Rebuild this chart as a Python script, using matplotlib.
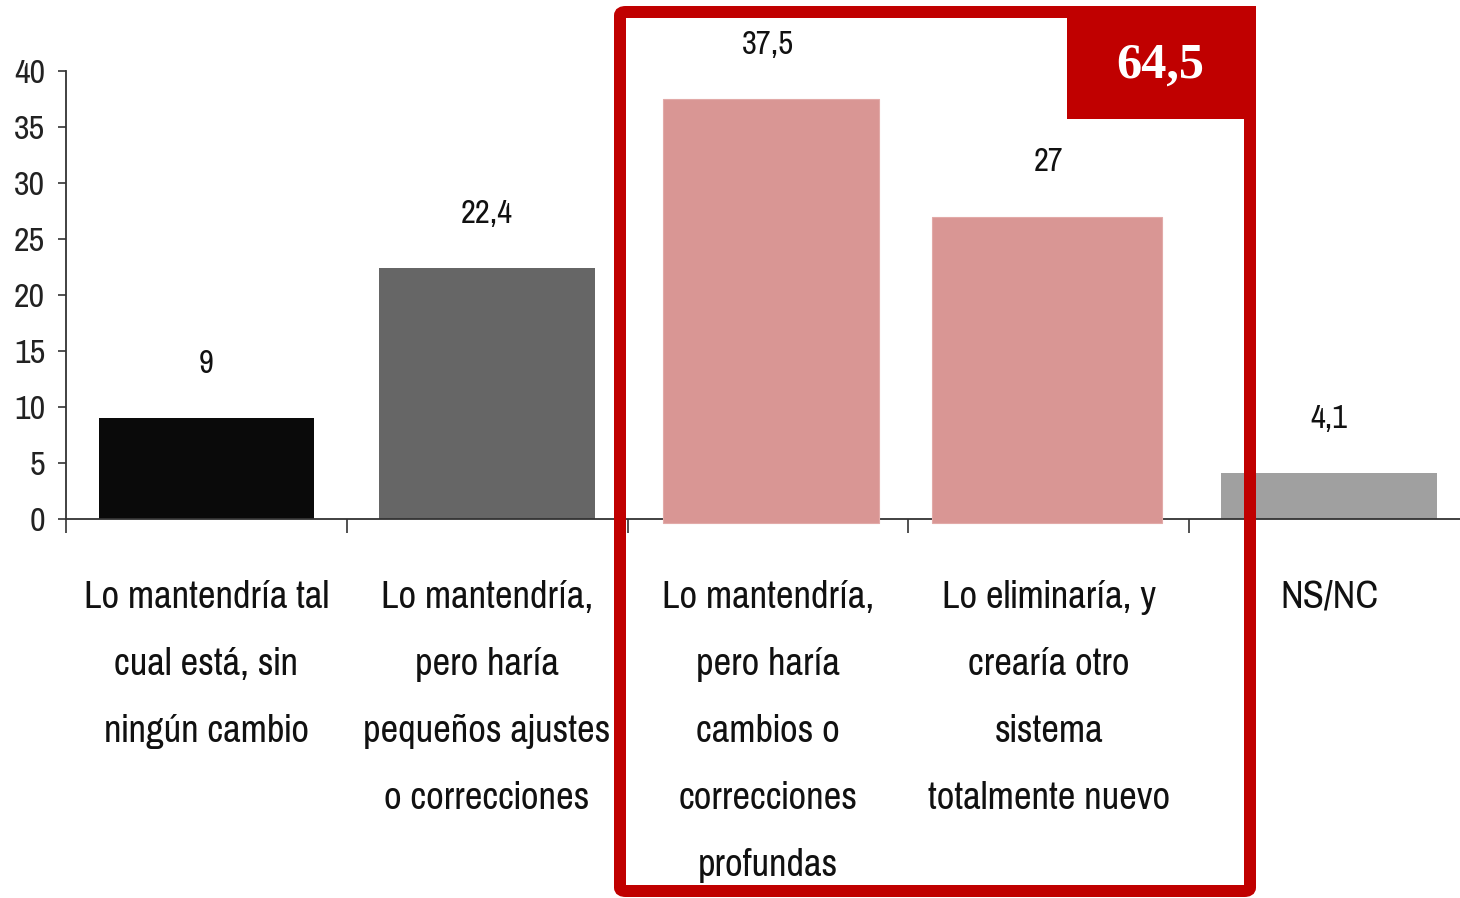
import matplotlib
matplotlib.use("Agg")
import matplotlib.pyplot as plt
from matplotlib.patches import Rectangle, FancyBboxPatch
from matplotlib.transforms import blended_transform_factory

categories = [
    "Lo mantendría tal\ncual está, sin\nningún cambio",
    "Lo mantendría,\npero haría\npequeños ajustes\no correcciones",
    "Lo mantendría,\npero haría\ncambios o\ncorrecciones\nprofundas",
    "Lo eliminaría, y\ncrearía otro\nsistema\ntotalmente nuevo",
    "NS/NC",
]
values = [9, 22.4, 37.5, 27, 4.1]
value_labels = ["9", "22,4", "37,5", "27", "4,1"]
highlight_total = "64,5"
yticks = [0, 5, 10, 15, 20, 25, 30, 35, 40]

colors = ["#0a0a0a", "#666666", "#d99694", "#d99694", "#a0a0a0"]
widths = [0.765, 0.77, 0.77, 0.82, 0.77]
offsets = [0.0, 0.0, 0.01, -0.006, 0.0]

narrow = ["Pragati Narrow", "Archivo Narrow", "Liberation Sans", "DejaVu Sans"]
serif = ["Liberation Serif", "DejaVu Serif"]

W, H = 1460, 898
fig = plt.figure(figsize=(W / 100, H / 100), dpi=100)
fig.patch.set_facecolor("white")
renderer = fig.canvas.get_renderer()


def fit_size(txt, family, target_w, weight="normal"):
    t = fig.text(0, 0, txt, fontsize=20, family=family, fontweight=weight)
    w = t.get_window_extent(renderer).width
    t.remove()
    return 20 * target_w / w


cat_fs = fit_size("Lo mantendría tal", narrow, 246)
tick_fs = fit_size("40", narrow, 31)
val_fs = fit_size("37,5", narrow, 52)
tot_fs = fit_size(highlight_total, serif, 88, weight="bold")

# line spacing so that baseline pitch is about 67 px
t1 = fig.text(0, 0, "Lo", fontsize=cat_fs, family=narrow, linespacing=1.0)
t2 = fig.text(0, 0, "Lo\nLo", fontsize=cat_fs, family=narrow, linespacing=1.0)
pitch1 = t2.get_window_extent(renderer).height - t1.get_window_extent(renderer).height
t1.remove(); t2.remove()
cat_ls = 67 / pitch1 * 1.118

ax_left = 66 / W
ax_w = 5 * 280.75 / W
ax_bottom = (H - 519) / H
ax_h = 448 / H
ax = fig.add_axes([ax_left, ax_bottom, ax_w, ax_h])
ax.set_xlim(-0.5, 4.5)
ax.set_ylim(0, 40)

for i, (v, c, w, o) in enumerate(zip(values, colors, widths, offsets)):
    if c == "#d99694":
        ax.bar(i + o, v + 0.35, bottom=-0.35, width=w, color=c, zorder=3,
               clip_on=False, edgecolor="#e2aaa8", linewidth=0.8)
    else:
        ax.bar(i + o, v, width=w, color=c, zorder=2)
    ax.annotate(value_labels[i], xy=(i, v), xytext=(0, 39),
                textcoords="offset points", ha="center", va="center",
                fontsize=val_fs, family=narrow, color="#111111")

for s in ["top", "right"]:
    ax.spines[s].set_visible(False)
for s in ["left", "bottom"]:
    ax.spines[s].set_color("#333333")
    ax.spines[s].set_linewidth(1.3)

ax.set_yticks(yticks)
ax.set_yticklabels([str(t) for t in yticks], family=narrow, fontsize=tick_fs)
ax.tick_params(axis="y", direction="out", length=6, width=1.2, color="#333333",
               pad=9, labelcolor="#222222")
ax.set_xticks([i - 0.5 for i in range(5)])
ax.set_xticklabels([])
ax.tick_params(axis="x", direction="out", length=10, width=1.2, color="#333333")

trans = blended_transform_factory(ax.transData, fig.transFigure)
for i, lab in enumerate(categories):
    ax.text(i, 1 - 580 / H, lab, transform=trans, ha="center", va="top",
            fontsize=cat_fs, family=narrow, linespacing=cat_ls, color="#111111")

# red highlight frame
red = "#c00000"
lw_pt = 12 * 72 / 100
frame = FancyBboxPatch((620 / W, 1 - 891 / H), (1250 - 620) / W, (891 - 12) / H,
                       boxstyle="round,pad=0,rounding_size=0.004",
                       transform=fig.transFigure, fill=False,
                       edgecolor=red, linewidth=lw_pt, zorder=10)
fig.patches.append(frame)
box = Rectangle((1067 / W, 1 - 119 / H), (1256 - 1067) / W, (119 - 6) / H,
                transform=fig.transFigure, facecolor=red, edgecolor="none", zorder=11)
fig.patches.append(box)
fig.text(1160 / W, 1 - 66 / H, highlight_total, ha="center", va="center",
         fontsize=tot_fs, fontweight="bold", family=serif,
         color="white", zorder=12)

fig.savefig("out.png", dpi=100, facecolor="white")
